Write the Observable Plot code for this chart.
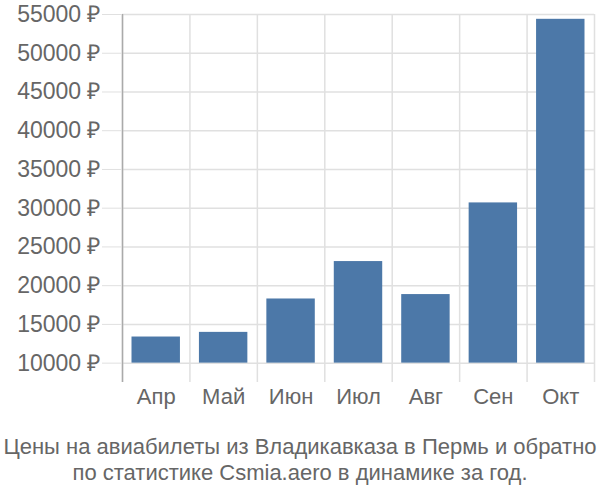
<!DOCTYPE html>
<html>
<head>
<meta charset="utf-8">
<script src="https://cdn.jsdelivr.net/npm/d3@7"></script>
<script src="https://cdn.jsdelivr.net/npm/@observablehq/plot@0.6"></script>
<style>
  body { margin: 0; background: #fff; font-family: "Liberation Sans", Arial, sans-serif; }
  #chart { width: 600px; height: 420px; }
  .caption { width: 600px; text-align: center; color: #666; font-size: 22px; line-height: 26px; padding-top: 14px; white-space: nowrap; }
</style>
</head>
<body>
<div id="chart"></div>
<script>
const months = ["Апр", "Май", "Июн", "Июл", "Авг", "Сен", "Окт"];
const prices = [13370, 13970, 18280, 23110, 18850, 30680, 54380];
const yTicks = [10000, 15000, 20000, 25000, 30000, 35000, 40000, 45000, 50000, 55000];
const yMin = 7500, yMax = 55000, baseline = 10000;
const captionLines = ["Цены на авиабилеты из Владикавказа в Пермь и обратно", "по статистике Csmia.aero в динамике за год."];

const data = months.map((m, i) => ({month: m, idx: i, price: prices[i]}));
const bounds = d3.range(months.length + 1);
const centers = months.map((m, i) => i + 0.5);

const plot = Plot.plot({
  width: 600,
  height: 420,
  marginTop: 14,
  marginBottom: 38,
  marginLeft: 122,
  marginRight: 6,
  style: {fontFamily: "'Liberation Sans', Arial, sans-serif", fontSize: "22px", color: "#666", background: "#fff"},
  x: {type: "linear", domain: [0, months.length]},
  y: {domain: [yMin, yMax]},
  marks: [
    Plot.ruleY(yTicks, {y: d => d, x1: 0, x2: months.length, stroke: "#e0e0e0", strokeWidth: 1.5}),
    Plot.ruleX(bounds, {x: d => d, y1: yMin, y2: yMax, stroke: "#e0e0e0", strokeWidth: 1.5}),
    Plot.ruleX([0], {x: d => d, y1: yMin, y2: yMax, stroke: "#aaaaaa", strokeWidth: 1.5}),
    Plot.rectY(data, {x1: d => d.idx, x2: d => d.idx + 1, y1: baseline, y2: "price", fill: "#4c78a8", insetLeft: 9.5, insetRight: 9.5}),
    Plot.axisY(yTicks, {label: null, tickSize: 20, tickPadding: 2, stroke: "#e0e0e0", tickFormat: d => d + " ₽", fill: "#666", fontSize: 23}),
    Plot.axisX(centers, {label: null, tickSize: 0, tickPadding: 6, tickFormat: d => months[Math.floor(d)], fill: "#666", fontSize: 22})
  ]
});
document.getElementById("chart").appendChild(plot);
const cap = document.createElement("div");
cap.className = "caption";
cap.innerHTML = captionLines.join("<br>");
document.body.appendChild(cap);
</script>
</body>
</html>
